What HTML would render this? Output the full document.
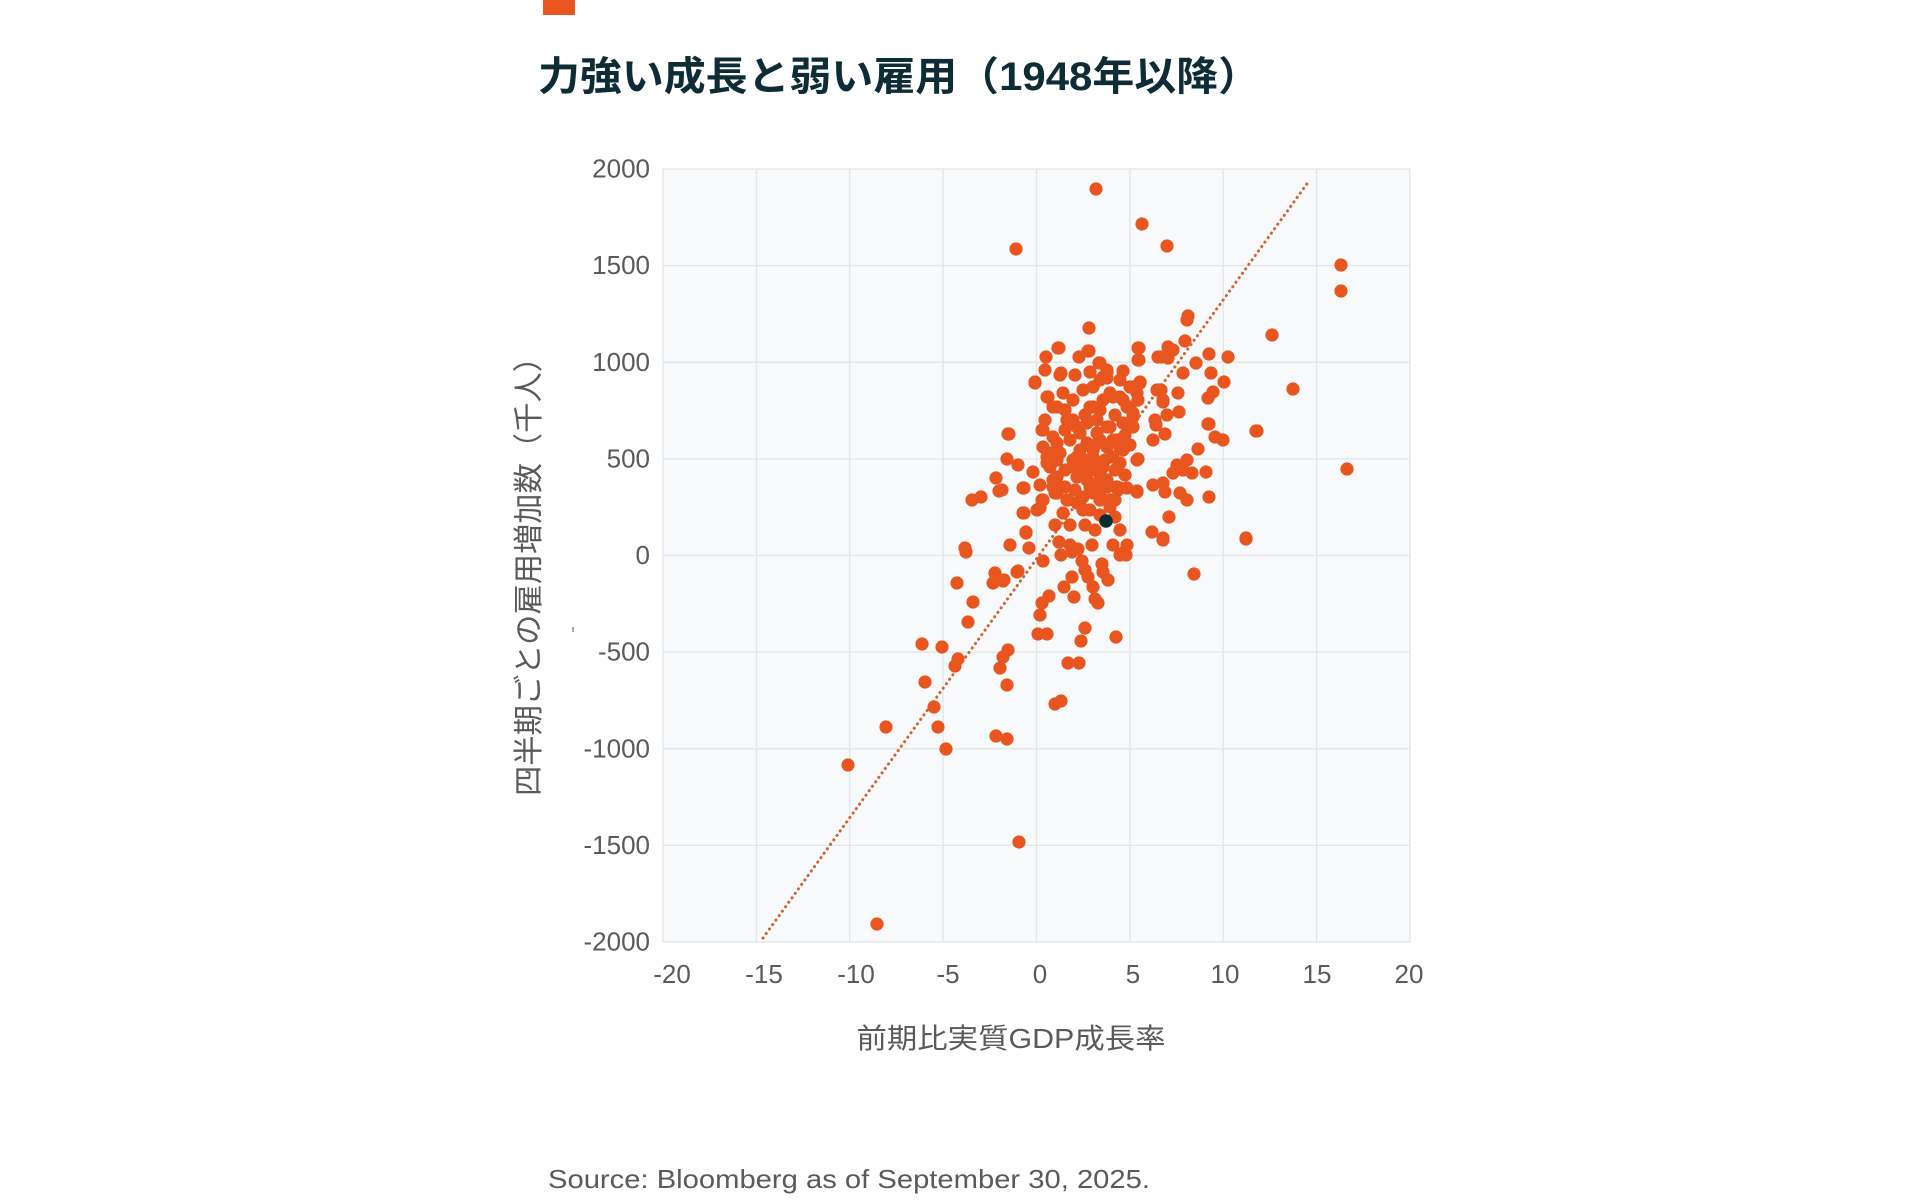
<!DOCTYPE html>
<html>
<head>
<meta charset="utf-8">
<style>
  html, body { margin: 0; padding: 0; background: #ffffff; }
  svg { display: block; }
  .tick { font-family: "Liberation Sans", sans-serif; font-size: 26px; fill: #5a5a5a; }
  .cjk { font-family: "Liberation Sans", "Noto Sans CJK JP", sans-serif; }
</style>
</head>
<body>
<svg width="1920" height="1201" viewBox="0 0 1920 1201" xmlns="http://www.w3.org/2000/svg">
  <rect x="0" y="0" width="1920" height="1201" fill="#ffffff"/>
  <!-- top accent -->
  <rect x="543" y="0" width="32" height="15" fill="#e9551f"/>
  <!-- title -->
  <text x="538" y="90" class="cjk" font-size="40" font-weight="700" fill="#0d2c36" textLength="722" lengthAdjust="spacingAndGlyphs">力強い成長と弱い雇用（1948年以降）</text>

  <!-- plot background -->
  <rect x="663" y="169" width="747" height="773" fill="#f7f9fb" stroke="#e2e6e9" stroke-width="1.3"/>
  <g stroke="#e2e6e9" stroke-width="1.3">
    <line x1="756.4" y1="169" x2="756.4" y2="942"/>
    <line x1="849.75" y1="169" x2="849.75" y2="942"/>
    <line x1="943.1" y1="169" x2="943.1" y2="942"/>
    <line x1="1036.5" y1="169" x2="1036.5" y2="942"/>
    <line x1="1129.9" y1="169" x2="1129.9" y2="942"/>
    <line x1="1223.25" y1="169" x2="1223.25" y2="942"/>
    <line x1="1316.6" y1="169" x2="1316.6" y2="942"/>
    <line x1="663" y1="265.6" x2="1410" y2="265.6"/>
    <line x1="663" y1="362.3" x2="1410" y2="362.3"/>
    <line x1="663" y1="458.9" x2="1410" y2="458.9"/>
    <line x1="663" y1="555.5" x2="1410" y2="555.5"/>
    <line x1="663" y1="652.1" x2="1410" y2="652.1"/>
    <line x1="663" y1="748.8" x2="1410" y2="748.8"/>
    <line x1="663" y1="845.4" x2="1410" y2="845.4"/>
  </g>

  <!-- y tick labels -->
  <g class="tick" text-anchor="end">
    <text x="650" y="177.5">2000</text>
    <text x="650" y="274">1500</text>
    <text x="650" y="371">1000</text>
    <text x="650" y="467.5">500</text>
    <text x="650" y="564">0</text>
    <text x="650" y="660.5">-500</text>
    <text x="650" y="757.5">-1000</text>
    <text x="650" y="854">-1500</text>
    <text x="650" y="950.5">-2000</text>
  </g>
  <!-- x tick labels -->
  <g class="tick" text-anchor="middle">
    <text x="672" y="983">-20</text>
    <text x="764" y="983">-15</text>
    <text x="856" y="983">-10</text>
    <text x="948" y="983">-5</text>
    <text x="1040" y="983">0</text>
    <text x="1133" y="983">5</text>
    <text x="1225" y="983">10</text>
    <text x="1317" y="983">15</text>
    <text x="1409" y="983">20</text>
  </g>

  <!-- axis titles -->
  <text x="1011" y="1048" class="cjk" font-size="28" fill="#5a5a5a" text-anchor="middle" textLength="309" lengthAdjust="spacingAndGlyphs">前期比実質GDP成長率</text>
  <text transform="translate(539,569) rotate(-90)" x="0" y="0" class="cjk" font-size="30" fill="#5a5a5a" text-anchor="middle" textLength="454" lengthAdjust="spacingAndGlyphs">四半期ごとの雇用増加数（千人）</text>
  <rect x="572" y="627" width="2" height="5" fill="#aaaaaa"/>

  <!-- trend line -->
  <line x1="763" y1="938" x2="1309" y2="181" stroke="#d4612f" stroke-width="3" stroke-dasharray="0.1 5.4" stroke-linecap="round"/>

  <!-- source -->
  <text x="548" y="1188" font-family="Liberation Sans, sans-serif" font-size="26" fill="#5a5a5a" textLength="602" lengthAdjust="spacingAndGlyphs">Source: Bloomberg as of September 30, 2025.</text>

  <g fill="#e9551f">
    <!-- lower-left -->
    <circle cx="966" cy="552" r="6.6"/><circle cx="1010" cy="545" r="6.6"/><circle cx="1017" cy="572" r="6.6"/>
    <circle cx="957" cy="583" r="6.6"/><circle cx="995" cy="573" r="6.6"/><circle cx="993" cy="583" r="6.6"/>
    <circle cx="1003" cy="581" r="6.6"/><circle cx="973" cy="602" r="6.6"/><circle cx="968" cy="622" r="6.6"/>
    <circle cx="922" cy="644" r="6.6"/><circle cx="942" cy="647" r="6.6"/><circle cx="958" cy="659" r="6.6"/>
    <circle cx="955" cy="666" r="6.6"/><circle cx="1008" cy="650" r="6.6"/><circle cx="1003" cy="657" r="6.6"/>
    <circle cx="1000" cy="668" r="6.6"/><circle cx="1007" cy="685" r="6.6"/><circle cx="925" cy="682" r="6.6"/>
    <circle cx="934" cy="707" r="6.6"/><circle cx="886" cy="727" r="6.6"/><circle cx="938" cy="727" r="6.6"/>
    <circle cx="996" cy="736" r="6.6"/><circle cx="1007" cy="739" r="6.6"/><circle cx="946" cy="749" r="6.6"/>
    <circle cx="848" cy="765" r="6.6"/><circle cx="1019" cy="842" r="6.6"/><circle cx="877" cy="924" r="6.6"/>
    <!-- upper-left / outliers -->
    <circle cx="1096" cy="189" r="6.6"/><circle cx="1142" cy="224" r="6.6"/><circle cx="1016" cy="249" r="6.6"/>
    <circle cx="1089" cy="328" r="6.6"/><circle cx="1059" cy="348" r="6.6"/><circle cx="1046" cy="357" r="6.6"/>
    <circle cx="1079" cy="357" r="6.6"/><circle cx="1089" cy="351" r="6.6"/><circle cx="1100" cy="363" r="6.6"/>
    <circle cx="1061" cy="373" r="6.6"/><circle cx="1035" cy="383" r="6.6"/><circle cx="1123" cy="371" r="6.6"/>
    <circle cx="1139" cy="348" r="6.6"/><circle cx="1139" cy="360" r="6.6"/><circle cx="1047" cy="397" r="6.6"/>
    <circle cx="1008" cy="434" r="6.6"/><circle cx="1007" cy="459" r="6.6"/><circle cx="1018" cy="465" r="6.6"/>
    <circle cx="1033" cy="472" r="6.6"/><circle cx="996" cy="478" r="6.6"/><circle cx="999" cy="491" r="6.6"/>
    <circle cx="972" cy="500" r="6.6"/><circle cx="981" cy="497" r="6.6"/><circle cx="1023" cy="488" r="6.6"/>
    <circle cx="1023" cy="513" r="6.6"/><circle cx="1026" cy="532" r="6.6"/><circle cx="965" cy="548" r="6.6"/>
    <!-- center / right -->
    <circle cx="1188" cy="316" r="6.6"/><circle cx="1187" cy="320" r="6.6"/><circle cx="1058" cy="348" r="6.6"/>
    <circle cx="1088" cy="351" r="6.6"/><circle cx="1138" cy="348" r="6.6"/><circle cx="1138" cy="360" r="6.6"/>
    <circle cx="1168" cy="347" r="6.6"/><circle cx="1173" cy="350" r="6.6"/><circle cx="1162" cy="357" r="6.6"/>
    <circle cx="1185" cy="341" r="6.6"/><circle cx="1209" cy="354" r="6.6"/><circle cx="1228" cy="357" r="6.6"/>
    <circle cx="1196" cy="363" r="6.6"/><circle cx="1099" cy="363" r="6.6"/><circle cx="1107" cy="372" r="6.6"/>
    <circle cx="1183" cy="373" r="6.6"/><circle cx="1211" cy="373" r="6.6"/><circle cx="1035" cy="382" r="6.6"/>
    <circle cx="1224" cy="382" r="6.6"/><circle cx="1161" cy="390" r="6.6"/><circle cx="1163" cy="400" r="6.6"/>
    <circle cx="1178" cy="393" r="6.6"/><circle cx="1213" cy="392" r="6.6"/><circle cx="1208" cy="398" r="6.6"/>
    <circle cx="1140" cy="383" r="6.6"/><circle cx="1137" cy="393" r="6.6"/><circle cx="1179" cy="412" r="6.6"/>
    <circle cx="1167" cy="415" r="6.6"/><circle cx="1155" cy="420" r="6.6"/><circle cx="1156" cy="425" r="6.6"/>
    <circle cx="1208" cy="424" r="6.6"/><circle cx="1256" cy="431" r="6.6"/><circle cx="1009" cy="434" r="6.6"/>
    <circle cx="1165" cy="434" r="6.6"/><circle cx="1153" cy="440" r="6.6"/><circle cx="1215" cy="437" r="6.6"/>
    <circle cx="1223" cy="440" r="6.6"/><circle cx="1198" cy="449" r="6.6"/><circle cx="1138" cy="459" r="6.6"/>
    <circle cx="1177" cy="465" r="6.6"/><circle cx="1187" cy="460" r="6.6"/><circle cx="1173" cy="473" r="6.6"/>
    <circle cx="1183" cy="470" r="6.6"/><circle cx="1192" cy="473" r="6.6"/><circle cx="1206" cy="472" r="6.6"/>
    <circle cx="1163" cy="483" r="6.6"/><circle cx="1165" cy="492" r="6.6"/><circle cx="1180" cy="493" r="6.6"/>
    <circle cx="1187" cy="500" r="6.6"/><circle cx="1209" cy="497" r="6.6"/><circle cx="1002" cy="490" r="6.6"/>
    <circle cx="1024" cy="488" r="6.6"/><circle cx="1137" cy="491" r="6.6"/><circle cx="1127" cy="488" r="6.6"/>
    <circle cx="1118" cy="490" r="6.6"/><circle cx="1042" cy="500" r="6.6"/><circle cx="1024" cy="513" r="6.6"/>
    <circle cx="1169" cy="517" r="6.6"/><circle cx="1152" cy="532" r="6.6"/><circle cx="1163" cy="538" r="6.6"/>
    <circle cx="1246" cy="538" r="6.6"/><circle cx="1026" cy="533" r="6.6"/><circle cx="1029" cy="548" r="6.6"/>
    <circle cx="1115" cy="517" r="6.6"/><circle cx="1059" cy="542" r="6.6"/><circle cx="1070" cy="545" r="6.6"/>
    <circle cx="1078" cy="549" r="6.6"/><circle cx="1092" cy="545" r="6.6"/><circle cx="1113" cy="545" r="6.6"/>
    <circle cx="1127" cy="545" r="6.6"/><circle cx="1123" cy="553" r="6.6"/>
    <!-- dense cluster -->
    <circle cx="1048" cy="397" r="6.6"/><circle cx="1053" cy="407" r="6.6"/><circle cx="1063" cy="393" r="6.6"/>
    <circle cx="1042" cy="430" r="6.6"/><circle cx="1043" cy="447" r="6.6"/><circle cx="1047" cy="457" r="6.6"/>
    <circle cx="1050" cy="467" r="6.6"/><circle cx="1053" cy="480" r="6.6"/><circle cx="1058" cy="487" r="6.6"/>
    <circle cx="1055" cy="493" r="6.6"/><circle cx="1043" cy="500" r="6.6"/><circle cx="1037" cy="510" r="6.6"/>
    <circle cx="1068" cy="500" r="6.6"/><circle cx="1080" cy="503" r="6.6"/><circle cx="1090" cy="510" r="6.6"/>
    <circle cx="1063" cy="513" r="6.6"/><circle cx="1083" cy="497" r="6.6"/><circle cx="1100" cy="493" r="6.6"/>
    <circle cx="1110" cy="500" r="6.6"/><circle cx="1120" cy="488" r="6.6"/><circle cx="1073" cy="400" r="6.6"/>
    <circle cx="1083" cy="390" r="6.6"/><circle cx="1093" cy="387" r="6.6"/><circle cx="1100" cy="380" r="6.6"/>
    <circle cx="1107" cy="378" r="6.6"/><circle cx="1110" cy="393" r="6.6"/><circle cx="1120" cy="397" r="6.6"/>
    <circle cx="1127" cy="407" r="6.6"/><circle cx="1133" cy="417" r="6.6"/><circle cx="1100" cy="410" r="6.6"/>
    <circle cx="1090" cy="407" r="6.6"/><circle cx="1097" cy="420" r="6.6"/><circle cx="1073" cy="420" r="6.6"/>
    <circle cx="1080" cy="433" r="6.6"/><circle cx="1070" cy="440" r="6.6"/><circle cx="1087" cy="443" r="6.6"/>
    <circle cx="1100" cy="440" r="6.6"/><circle cx="1110" cy="427" r="6.6"/><circle cx="1117" cy="440" r="6.6"/>
    <circle cx="1123" cy="450" r="6.6"/><circle cx="1113" cy="457" r="6.6"/><circle cx="1077" cy="457" r="6.6"/>
    <circle cx="1073" cy="467" r="6.6"/><circle cx="1087" cy="467" r="6.6"/><circle cx="1093" cy="457" r="6.6"/>
    <circle cx="1100" cy="473" r="6.6"/><circle cx="1107" cy="480" r="6.6"/><circle cx="1097" cy="487" r="6.6"/>
    <circle cx="1087" cy="480" r="6.6"/><circle cx="1077" cy="477" r="6.6"/><circle cx="1057" cy="443" r="6.6"/>
    <circle cx="1060" cy="453" r="6.6"/><circle cx="1053" cy="437" r="6.6"/><circle cx="1123" cy="423" r="6.6"/>
    <circle cx="1133" cy="427" r="6.6"/><circle cx="1130" cy="387" r="6.6"/><circle cx="1138" cy="400" r="6.6"/>
    <circle cx="1057" cy="407" r="6.6"/><circle cx="1103" cy="377" r="6.6"/><circle cx="1107" cy="370" r="6.6"/>
    <circle cx="1093" cy="407" r="6.6"/><circle cx="1103" cy="400" r="6.6"/><circle cx="1113" cy="397" r="6.6"/>
    <circle cx="1123" cy="400" r="6.6"/><circle cx="1130" cy="407" r="6.6"/><circle cx="1133" cy="387" r="6.6"/>
    <circle cx="1140" cy="382" r="6.6"/><circle cx="1133" cy="413" r="6.6"/><circle cx="1130" cy="423" r="6.6"/>
    <circle cx="1043" cy="430" r="6.6"/><circle cx="1050" cy="453" r="6.6"/><circle cx="1047" cy="463" r="6.6"/>
    <circle cx="1057" cy="460" r="6.6"/><circle cx="1067" cy="420" r="6.6"/><circle cx="1077" cy="427" r="6.6"/>
    <circle cx="1087" cy="423" r="6.6"/><circle cx="1097" cy="433" r="6.6"/><circle cx="1107" cy="427" r="6.6"/>
    <circle cx="1113" cy="440" r="6.6"/><circle cx="1120" cy="447" r="6.6"/><circle cx="1120" cy="463" r="6.6"/>
    <circle cx="1080" cy="450" r="6.6"/><circle cx="1073" cy="460" r="6.6"/><circle cx="1080" cy="470" r="6.6"/>
    <circle cx="1093" cy="470" r="6.6"/><circle cx="1103" cy="467" r="6.6"/><circle cx="1100" cy="480" r="6.6"/>
    <circle cx="1107" cy="487" r="6.6"/><circle cx="1093" cy="493" r="6.6"/><circle cx="1100" cy="500" r="6.6"/>
    <circle cx="1057" cy="477" r="6.6"/><circle cx="1053" cy="487" r="6.6"/><circle cx="1057" cy="493" r="6.6"/>
    <circle cx="1040" cy="508" r="6.6"/><circle cx="1067" cy="500" r="6.6"/><circle cx="1077" cy="503" r="6.6"/>
    <circle cx="1083" cy="510" r="6.6"/><circle cx="1117" cy="487" r="6.6"/><circle cx="1137" cy="492" r="6.6"/>
    <circle cx="1110" cy="507" r="6.6"/><circle cx="1093" cy="450" r="6.6"/><circle cx="1107" cy="447" r="6.6"/>
    <circle cx="1137" cy="460" r="6.6"/><circle cx="1158" cy="357" r="6.6"/><circle cx="1157" cy="390" r="6.6"/>
    <circle cx="1153" cy="485" r="6.6"/>
    <!-- extra cluster fill -->
    <circle cx="1045" cy="420" r="6.6"/><circle cx="1065" cy="410" r="6.6"/><circle cx="1085" cy="415" r="6.6"/>
    <circle cx="1115" cy="415" r="6.6"/><circle cx="1125" cy="435" r="6.6"/><circle cx="1065" cy="430" r="6.6"/>
    <circle cx="1095" cy="445" r="6.6"/><circle cx="1105" cy="460" r="6.6"/><circle cx="1085" cy="460" r="6.6"/>
    <circle cx="1065" cy="470" r="6.6"/><circle cx="1115" cy="470" r="6.6"/><circle cx="1095" cy="465" r="6.6"/>
    <circle cx="1075" cy="490" r="6.6"/><circle cx="1090" cy="487" r="6.6"/><circle cx="1065" cy="487" r="6.6"/>
    <circle cx="1125" cy="475" r="6.6"/><circle cx="1115" cy="500" r="6.6"/><circle cx="1100" cy="515" r="6.6"/>
    <circle cx="1070" cy="525" r="6.6"/><circle cx="1085" cy="525" r="6.6"/><circle cx="1055" cy="525" r="6.6"/>
    <circle cx="1120" cy="530" r="6.6"/><circle cx="1095" cy="530" r="6.6"/><circle cx="1040" cy="485" r="6.6"/>
    <circle cx="1060" cy="375" r="6.6"/><circle cx="1075" cy="375" r="6.6"/><circle cx="1090" cy="372" r="6.6"/>
    <circle cx="1120" cy="380" r="6.6"/><circle cx="1045" cy="370" r="6.6"/><circle cx="1130" cy="445" r="6.6"/>
    <!-- below zero center -->
    <circle cx="1061" cy="555" r="6.6"/><circle cx="1072" cy="552" r="6.6"/><circle cx="1163" cy="540" r="6.6"/>
    <circle cx="1120" cy="555" r="6.6"/><circle cx="1126" cy="555" r="6.6"/><circle cx="1043" cy="561" r="6.6"/>
    <circle cx="1018" cy="571" r="6.6"/><circle cx="1004" cy="580" r="6.6"/><circle cx="1082" cy="561" r="6.6"/>
    <circle cx="1085" cy="570" r="6.6"/><circle cx="1088" cy="577" r="6.6"/><circle cx="1102" cy="564" r="6.6"/>
    <circle cx="1103" cy="572" r="6.6"/><circle cx="1108" cy="580" r="6.6"/><circle cx="1072" cy="577" r="6.6"/>
    <circle cx="1064" cy="587" r="6.6"/><circle cx="1093" cy="587" r="6.6"/><circle cx="1074" cy="597" r="6.6"/>
    <circle cx="1049" cy="596" r="6.6"/><circle cx="1042" cy="603" r="6.6"/><circle cx="1095" cy="599" r="6.6"/>
    <circle cx="1098" cy="603" r="6.6"/><circle cx="1194" cy="574" r="6.6"/><circle cx="1040" cy="615" r="6.6"/>
    <circle cx="1085" cy="628" r="6.6"/><circle cx="1081" cy="641" r="6.6"/><circle cx="1038" cy="634" r="6.6"/>
    <circle cx="1047" cy="634" r="6.6"/><circle cx="1116" cy="637" r="6.6"/><circle cx="1068" cy="663" r="6.6"/>
    <circle cx="1079" cy="663" r="6.6"/><circle cx="1055" cy="704" r="6.6"/><circle cx="1061" cy="701" r="6.6"/>
    <!-- far right -->
    <circle cx="1167" cy="246" r="6.6"/><circle cx="1341" cy="265" r="6.6"/><circle cx="1341" cy="291" r="6.6"/>
    <circle cx="1272" cy="335" r="6.6"/><circle cx="1168" cy="358" r="6.6"/><circle cx="1293" cy="389" r="6.6"/>
    <circle cx="1160" cy="390" r="6.6"/><circle cx="1163" cy="402" r="6.6"/><circle cx="1209" cy="424" r="6.6"/>
    <circle cx="1257" cy="431" r="6.6"/><circle cx="1347" cy="469" r="6.6"/><circle cx="1246" cy="539" r="6.6"/>
  </g>
  <!-- highlighted point -->
  <circle cx="1106" cy="521" r="6.8" fill="#0b2a30"/>
</svg>
</body>
</html>
